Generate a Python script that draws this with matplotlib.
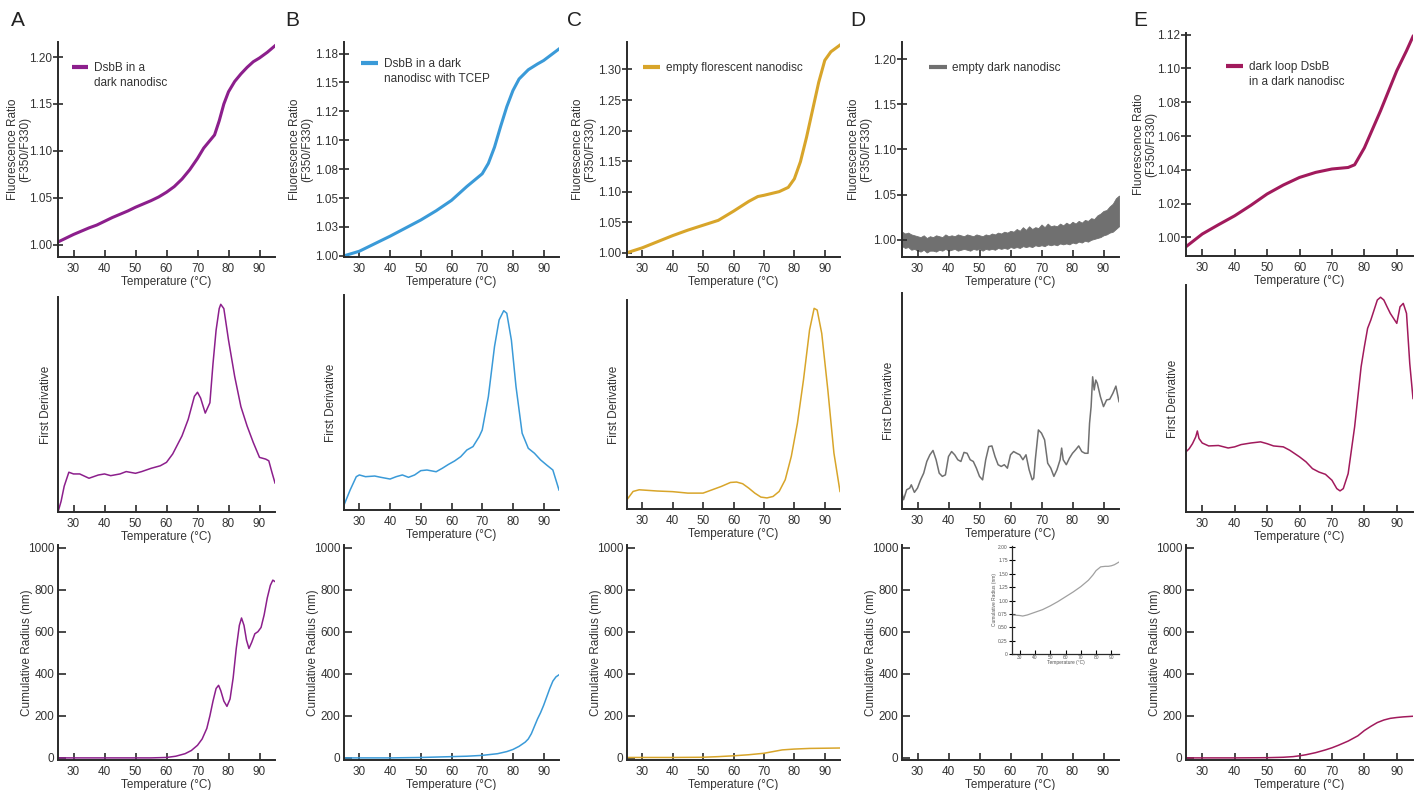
import numpy as np
import matplotlib
matplotlib.use("Agg")
import matplotlib.pyplot as plt

plt.rcParams['font.family'] = ['Liberation Sans', 'DejaVu Sans']

# ---------------- data ----------------
temps_ticks = [30, 40, 50, 60, 70, 80, 90]

# top row: fluorescence ratio
tA = [25, 27.5, 30, 32.5, 35, 37.5, 40, 42.5, 45, 47.5, 50, 52.5, 55, 57.5, 60, 62.5, 65,
      67.5, 70, 72, 74, 75.5, 77, 78.5, 80, 82, 84, 86, 88, 90, 92.5, 95]
ratioA = [1.003, 1.007, 1.011, 1.0145, 1.018, 1.021, 1.025, 1.029, 1.0325, 1.036, 1.040,
          1.0435, 1.047, 1.051, 1.056, 1.062, 1.070, 1.080, 1.092, 1.103, 1.111, 1.117,
          1.132, 1.150, 1.163, 1.174, 1.182, 1.189, 1.195, 1.199, 1.205, 1.212]

tB = [25, 30, 35, 40, 45, 50, 55, 60, 65, 70, 72, 74, 76, 78, 80, 82, 85, 88, 90, 92.5, 95]
ratioB = [1.000, 1.004, 1.0105, 1.017, 1.024, 1.031, 1.039, 1.048, 1.060, 1.071, 1.080,
          1.094, 1.112, 1.129, 1.143, 1.153, 1.161, 1.166, 1.169, 1.174, 1.179]

tC = [25, 30, 35, 40, 45, 50, 55, 60, 65, 68, 70, 75, 78, 80, 82, 84, 86, 88, 90, 92, 95]
ratioC = [1.000, 1.008, 1.018, 1.028, 1.037, 1.045, 1.053, 1.068, 1.084, 1.092, 1.094,
          1.100, 1.107, 1.121, 1.149, 1.189, 1.234, 1.279, 1.315, 1.329, 1.340]

tD = list(range(25, 96))
ratioD_low = [0.993, 0.991, 0.992, 0.989, 0.990, 0.988, 0.987, 0.989, 0.986, 0.988,
              0.988, 0.987, 0.989, 0.988, 0.990, 0.988, 0.989, 0.990, 0.988, 0.989,
              0.990, 0.989, 0.988, 0.990, 0.989, 0.990, 0.988, 0.990, 0.989, 0.990,
              0.989, 0.991, 0.990, 0.991, 0.990, 0.992, 0.991, 0.992, 0.991, 0.993,
              0.992, 0.993, 0.992, 0.994, 0.993, 0.994, 0.993, 0.995, 0.994, 0.995,
              0.994, 0.996, 0.995, 0.996, 0.995, 0.997, 0.996, 0.998, 0.997, 0.999,
              0.998, 1.000, 1.001, 1.002, 1.003, 1.005, 1.006, 1.008, 1.009, 1.012,
              1.015]
ratioD_high = [1.009, 1.007, 1.008, 1.006, 1.005, 1.004, 1.003, 1.005, 1.002, 1.004,
               1.003, 1.005, 1.004, 1.003, 1.006, 1.004, 1.005, 1.004, 1.006, 1.005,
               1.004, 1.006, 1.005, 1.004, 1.006, 1.005, 1.004, 1.006, 1.005, 1.007,
               1.006, 1.008, 1.007, 1.009, 1.008, 1.010, 1.009, 1.012, 1.010, 1.014,
               1.011, 1.015, 1.012, 1.014, 1.013, 1.017, 1.014, 1.018, 1.015, 1.016,
               1.015, 1.018, 1.016, 1.019, 1.017, 1.020, 1.018, 1.021, 1.019, 1.022,
               1.021, 1.024, 1.023, 1.027, 1.029, 1.032, 1.033, 1.037, 1.040, 1.046,
               1.049]

tE = [25, 30, 35, 40, 45, 50, 55, 60, 65, 70, 75, 77, 80, 85, 90, 93, 95]
ratioE = [0.9945, 1.002, 1.0075, 1.0128, 1.019, 1.0257, 1.031, 1.0355, 1.0385, 1.0405,
          1.0414, 1.043, 1.053, 1.075, 1.0987, 1.1105, 1.119]

# middle row: first derivative (relative units)
dtA = [25, 26, 27, 28.5, 30, 32, 35, 38, 40, 42, 45, 47, 50, 52, 55, 58, 60, 62, 65, 67,
       69, 70, 71, 72.5, 74, 75, 76, 77, 77.5, 78.5, 80, 82, 84, 86, 88, 90, 92, 93, 94, 95]
derivA = [0.0, 0.05, 0.12, 0.185, 0.177, 0.177, 0.157, 0.172, 0.177, 0.169, 0.177, 0.188,
          0.18, 0.188, 0.203, 0.215, 0.231, 0.27, 0.354, 0.431, 0.538, 0.557, 0.53, 0.46,
          0.508, 0.69, 0.846, 0.946, 0.966, 0.946, 0.8, 0.63, 0.49, 0.4, 0.323, 0.254,
          0.246, 0.238, 0.185, 0.135]

dtB = [25, 27, 29, 30, 32, 35, 37, 40, 42, 44, 46, 48, 50, 52, 55, 57, 59, 61, 63, 65, 67,
       69, 70, 72, 74, 75.5, 77, 78, 79.5, 81, 83, 85, 87, 89, 91, 93, 95]
derivB = [0.023, 0.093, 0.155, 0.163, 0.155, 0.158, 0.152, 0.144, 0.155, 0.163, 0.152,
          0.163, 0.183, 0.186, 0.178, 0.194, 0.212, 0.228, 0.248, 0.279, 0.295, 0.341,
          0.372, 0.527, 0.76, 0.884, 0.927, 0.915, 0.79, 0.574, 0.357, 0.287, 0.264,
          0.233, 0.209, 0.186, 0.093]

dtC = [25, 27, 29, 32, 35, 40, 45, 50, 53, 56, 59, 61, 63, 65, 67, 69, 71, 73, 75, 77,
       79, 81, 83, 85, 86.5, 87.5, 89, 91, 93, 95]
derivC = [0.045, 0.084, 0.092, 0.089, 0.086, 0.083, 0.076, 0.076, 0.092, 0.108, 0.127,
          0.129, 0.121, 0.1, 0.076, 0.057, 0.053, 0.06, 0.084, 0.14, 0.252, 0.41, 0.618,
          0.857, 0.96, 0.952, 0.84, 0.57, 0.268, 0.084]

dtD = [25, 25.5, 26.5, 27.5, 28, 29, 30, 31, 32, 33, 34, 35, 36, 37, 38, 39, 40, 41, 42,
       43, 44, 45, 46, 47, 48, 49, 50, 51, 52, 53, 54, 55, 56, 57, 58, 59, 60, 61, 62, 63,
       64, 65, 66, 67, 67.5, 68, 69, 70, 71, 72, 73, 74, 75, 76, 76.5, 77, 78, 79, 80, 81,
       82, 83, 84, 85, 85.5, 86, 86.5, 87, 87.5, 88, 89, 90, 91, 92, 93, 94, 95]
derivD = [0.074, 0.043, 0.089, 0.097, 0.112, 0.077, 0.097, 0.135, 0.166, 0.22, 0.251,
          0.271, 0.228, 0.166, 0.151, 0.158, 0.243, 0.266, 0.251, 0.228, 0.22, 0.262,
          0.258, 0.228, 0.22, 0.189, 0.151, 0.135, 0.228, 0.289, 0.292, 0.243, 0.205,
          0.197, 0.205, 0.189, 0.251, 0.266, 0.258, 0.251, 0.228, 0.251, 0.182, 0.135,
          0.143, 0.228, 0.366, 0.351, 0.32, 0.212, 0.189, 0.151, 0.182, 0.228, 0.282,
          0.228, 0.205, 0.235, 0.258, 0.274, 0.292, 0.266, 0.258, 0.258, 0.397, 0.474,
          0.612, 0.551, 0.597, 0.582, 0.52, 0.474, 0.505, 0.508, 0.535, 0.569, 0.497]

dtE = [25, 26, 27, 28, 28.5, 29, 30, 32, 35, 38, 40, 42, 45, 48, 50, 52, 55, 57, 60, 62,
       64, 66, 68, 70, 71.5, 72.5, 73.5, 75, 77, 79, 80, 81, 82, 83, 84, 85, 86, 87, 88,
       89, 90, 91, 92, 93, 94, 95]
derivE = [0.265, 0.279, 0.301, 0.331, 0.357, 0.324, 0.304, 0.291, 0.293, 0.282, 0.287,
          0.297, 0.304, 0.309, 0.301, 0.291, 0.287, 0.272, 0.243, 0.221, 0.191, 0.176,
          0.166, 0.14, 0.103, 0.093, 0.103, 0.169, 0.375, 0.64, 0.728, 0.809, 0.846, 0.89,
          0.934, 0.946, 0.934, 0.904, 0.875, 0.853, 0.831, 0.904, 0.919, 0.875, 0.654, 0.5]

# bottom row: cumulative radius (nm)
rtA = [25, 30, 40, 50, 55, 60, 63, 66, 68, 70, 71.5, 73, 74, 75, 76, 76.8, 77.5, 78.5,
       79.5, 80.5, 81.5, 82.5, 83.5, 84.2, 85, 85.8, 86.6, 87.5, 88.5, 89.5, 90.5, 91.5,
       92.5, 93.5, 94.3, 95]
radA = [0, 0, 0, 0, 0, 2, 8, 20, 35, 60, 90, 140, 200, 270, 330, 345, 320, 270, 245, 280,
        380, 520, 630, 665, 630, 560, 520, 550, 590, 600, 620, 680, 760, 820, 845, 838]

rtB = [25, 40, 50, 55, 60, 65, 70, 75, 78, 80, 82, 84, 85, 86, 87, 88, 89, 90, 91, 92, 93,
       94, 95]
radB = [0, 0, 2, 4, 6, 8, 12, 20, 30, 40, 55, 75, 90, 115, 150, 185, 215, 250, 290, 330,
        365, 385, 395]

rtC = [25, 40, 50, 55, 60, 65, 70, 73, 76, 80, 85, 90, 95]
radC = [2, 2, 3, 6, 10, 15, 22, 30, 38, 42, 45, 46, 47]

rtE = [25, 40, 50, 55, 58, 60, 62, 65, 68, 70, 72, 75, 78, 80, 82, 84, 86, 88, 90, 92, 95]
radE = [0, 0, 1, 3, 6, 10, 15, 25, 38, 48, 60, 80, 105, 130, 150, 168, 180, 188, 192, 195,
        198]

# inset of panel D (empty dark nanodisc)
rtD_inset = [25, 30, 32, 35, 40, 45, 50, 55, 60, 65, 70, 75, 78, 80, 83, 86, 88, 90, 92, 95]
radD_inset = [0.73, 0.72, 0.71, 0.73, 0.78, 0.83, 0.90, 0.98, 1.07, 1.16, 1.26, 1.38, 1.48,
              1.56, 1.63, 1.64, 1.64, 1.65, 1.67, 1.72]

# tick labels of the top row
ticksA = [1.00, 1.05, 1.10, 1.15, 1.20]
ticksB = [1.0, 1.025, 1.05, 1.075, 1.10, 1.125, 1.15, 1.175]
labelsB = ['1.00', '1.03', '1.05', '1.08', '1.10', '1.12', '1.15', '1.18']
ticksC = [1.00, 1.05, 1.10, 1.15, 1.20, 1.25, 1.30]
ticksD = [1.00, 1.05, 1.10, 1.15, 1.20]
ticksE = [1.00, 1.02, 1.04, 1.06, 1.08, 1.10, 1.12]
ticks_rad = [0, 200, 400, 600, 800, 1000]
ticks_inset = [0, 0.25, 0.5, 0.75, 1.0, 1.25, 1.5, 1.75, 2.0]

legend_labels = ['DsbB in a\ndark nanodisc', 'DsbB in a dark\nnanodisc with TCEP',
                 'empty florescent nanodisc', 'empty dark nanodisc',
                 'dark loop DsbB\nin a dark nanodisc']
panel_letters = ['A', 'B', 'C', 'D', 'E']
colors = ['#8c1f8c', '#3a9ad8', '#d8a52a', '#707070', '#a11a5c']

# ---------------- layout (pixels) ----------------
W, H = 1422, 790
fig = plt.figure(figsize=(W / 100, H / 100), dpi=100)

col_left = [58, 344, 627, 902, 1186]
col_width = [217, 215, 213, 217, 227]
row_top = [[42, 42, 42, 42, 33], [297, 295, 300, 293, 285], [545, 545, 545, 545, 545]]
row_bot = [[257, 257, 257, 257, 256], [512, 510, 509, 509, 512], [760, 760, 760, 760, 760]]
letter_x = [18, 292, 575, 858, 1140]
ylabel_dx = [[-27, -31, -31, -30, -29], [-6, -7, -7, -7, -7], [-25, -25, -25, -25, -25]]

spine_col = '#2a2a2a'
txt_col = '#333333'
fs = 8.5


def make_ax(r, c):
    l, w = col_left[c], col_width[c]
    t, b = row_top[r][c], row_bot[r][c]
    ax = fig.add_axes([l / W, (H - b) / H, w / W, (b - t) / H])
    ax.set_facecolor('none')
    for s in ['top', 'right']:
        ax.spines[s].set_visible(False)
    for s in ['left', 'bottom']:
        ax.spines[s].set_color(spine_col)
        ax.spines[s].set_linewidth(1.4)
    ax.set_xlim(25, 95)
    ax.set_xticks(temps_ticks)
    ax.tick_params(axis='x', direction='in', length=5, width=1.2, color=spine_col,
                   labelsize=fs, pad=4, labelcolor=txt_col)
    if r == 2:
        ax.tick_params(axis='y', direction='in', length=6, width=1.2, color=spine_col,
                       labelsize=fs, pad=2.5, labelcolor=txt_col)
    else:
        ax.tick_params(axis='y', direction='inout', length=7, width=1.2, color=spine_col,
                       labelsize=fs, pad=1, labelcolor=txt_col)
    ax.set_xlabel('Temperature (°C)', fontsize=fs, labelpad=1, color=txt_col)
    return ax


def place_ylabel(ax, r, c):
    ax.yaxis.set_label_coords(ylabel_dx[r][c] / col_width[c], 0.5)


def add_key(ax, x0, x1, y, text, color):
    ax.plot([x0, x1], [y, y], transform=ax.transAxes, color=color, lw=3,
            solid_capstyle='butt', clip_on=False)
    ax.annotate(text, xy=(x1, y), xycoords='axes fraction', xytext=(4, 3.5),
                textcoords='offset points', ha='left', va='top', fontsize=fs,
                color=txt_col, linespacing=1.35)


# top row
top_data = [(tA, ratioA), (tB, ratioB), (tC, ratioC), None, (tE, ratioE)]
top_ylim = [(0.987, 1.216), (0.999, 1.185), (0.993, 1.345), (0.981, 1.219), (0.989, 1.121)]
top_ticks = [ticksA, ticksB, ticksC, ticksD, ticksE]
key_pos = [(0.065, 0.138, 0.884), (0.079, 0.158, 0.902), (0.075, 0.155, 0.884),
           (0.124, 0.207, 0.884), (0.176, 0.251, 0.852)]

for c in range(5):
    ax = make_ax(0, c)
    if top_data[c] is None:
        ax.fill_between(tD, ratioD_low, ratioD_high, color=colors[c], lw=0.6,
                        edgecolor=colors[c])
    else:
        ax.plot(top_data[c][0], top_data[c][1], color=colors[c], lw=2.2)
    ax.set_ylim(*top_ylim[c])
    ax.set_yticks(top_ticks[c])
    if c == 1:
        ax.set_yticklabels(labelsB)
    else:
        ax.set_yticklabels(['%.2f' % v for v in top_ticks[c]])
    ax.set_ylabel('Fluorescence Ratio\n(F350/F330)', fontsize=fs, color=txt_col,
                  linespacing=1.05)
    place_ylabel(ax, 0, c)
    x0, x1, y = key_pos[c]
    add_key(ax, x0, x1, y, legend_labels[c], colors[c])
    fig.text(letter_x[c] / W, 1 - 20 / H, panel_letters[c], fontsize=15, ha='center',
             va='center', color='#222222')

# middle row
mid_data = [(dtA, derivA), (dtB, derivB), (dtC, derivC), (dtD, derivD), (dtE, derivE)]
for c in range(5):
    ax = make_ax(1, c)
    ax.plot(mid_data[c][0], mid_data[c][1], color=colors[c], lw=1.1)
    ax.set_ylim(0, 1)
    ax.set_yticks([])
    ax.set_ylabel('First Derivative', fontsize=fs, color=txt_col)
    place_ylabel(ax, 1, c)

# bottom row
bot_data = [(rtA, radA), (rtB, radB), (rtC, radC), None, (rtE, radE)]
for c in range(5):
    ax = make_ax(2, c)
    if bot_data[c] is not None:
        ax.plot(bot_data[c][0], bot_data[c][1], color=colors[c], lw=1.1)
    ax.set_ylim(-10, 1012)
    ax.set_yticks(ticks_rad)
    ax.set_ylabel('Cumulative Radius (nm)', fontsize=fs, color=txt_col)
    place_ylabel(ax, 2, c)

# inset in panel D bottom
axi = fig.add_axes([1012 / W, (H - 654) / H, 107 / W, 108 / H])
axi.set_facecolor('none')
for s in ['top', 'right']:
    axi.spines[s].set_visible(False)
for s in ['left', 'bottom']:
    axi.spines[s].set_color(spine_col)
    axi.spines[s].set_linewidth(0.9)
axi.plot(rtD_inset, radD_inset, color='#a0a0a0', lw=0.9)
axi.set_xlim(25, 95)
axi.set_ylim(0, 2.02)
axi.set_xticks(temps_ticks)
axi.set_yticks(ticks_inset)
axi.set_yticklabels(['0', '0.25', '0.50', '0.75', '1.00', '1.25', '1.50', '1.75', '2.00'])
axi.tick_params(axis='x', direction='in', length=3, width=0.8, labelsize=3.5, pad=1,
                labelcolor='#555555')
axi.tick_params(axis='y', direction='inout', length=4, width=0.8, labelsize=3.5, pad=1,
                labelcolor='#555555')
axi.set_xlabel('Temperature (°C)', fontsize=3.5, labelpad=0, color='#555555')
axi.set_ylabel('Cumulative Radius (nm)', fontsize=3.5, labelpad=1, color='#555555')

fig.savefig('out.png', dpi=100)
